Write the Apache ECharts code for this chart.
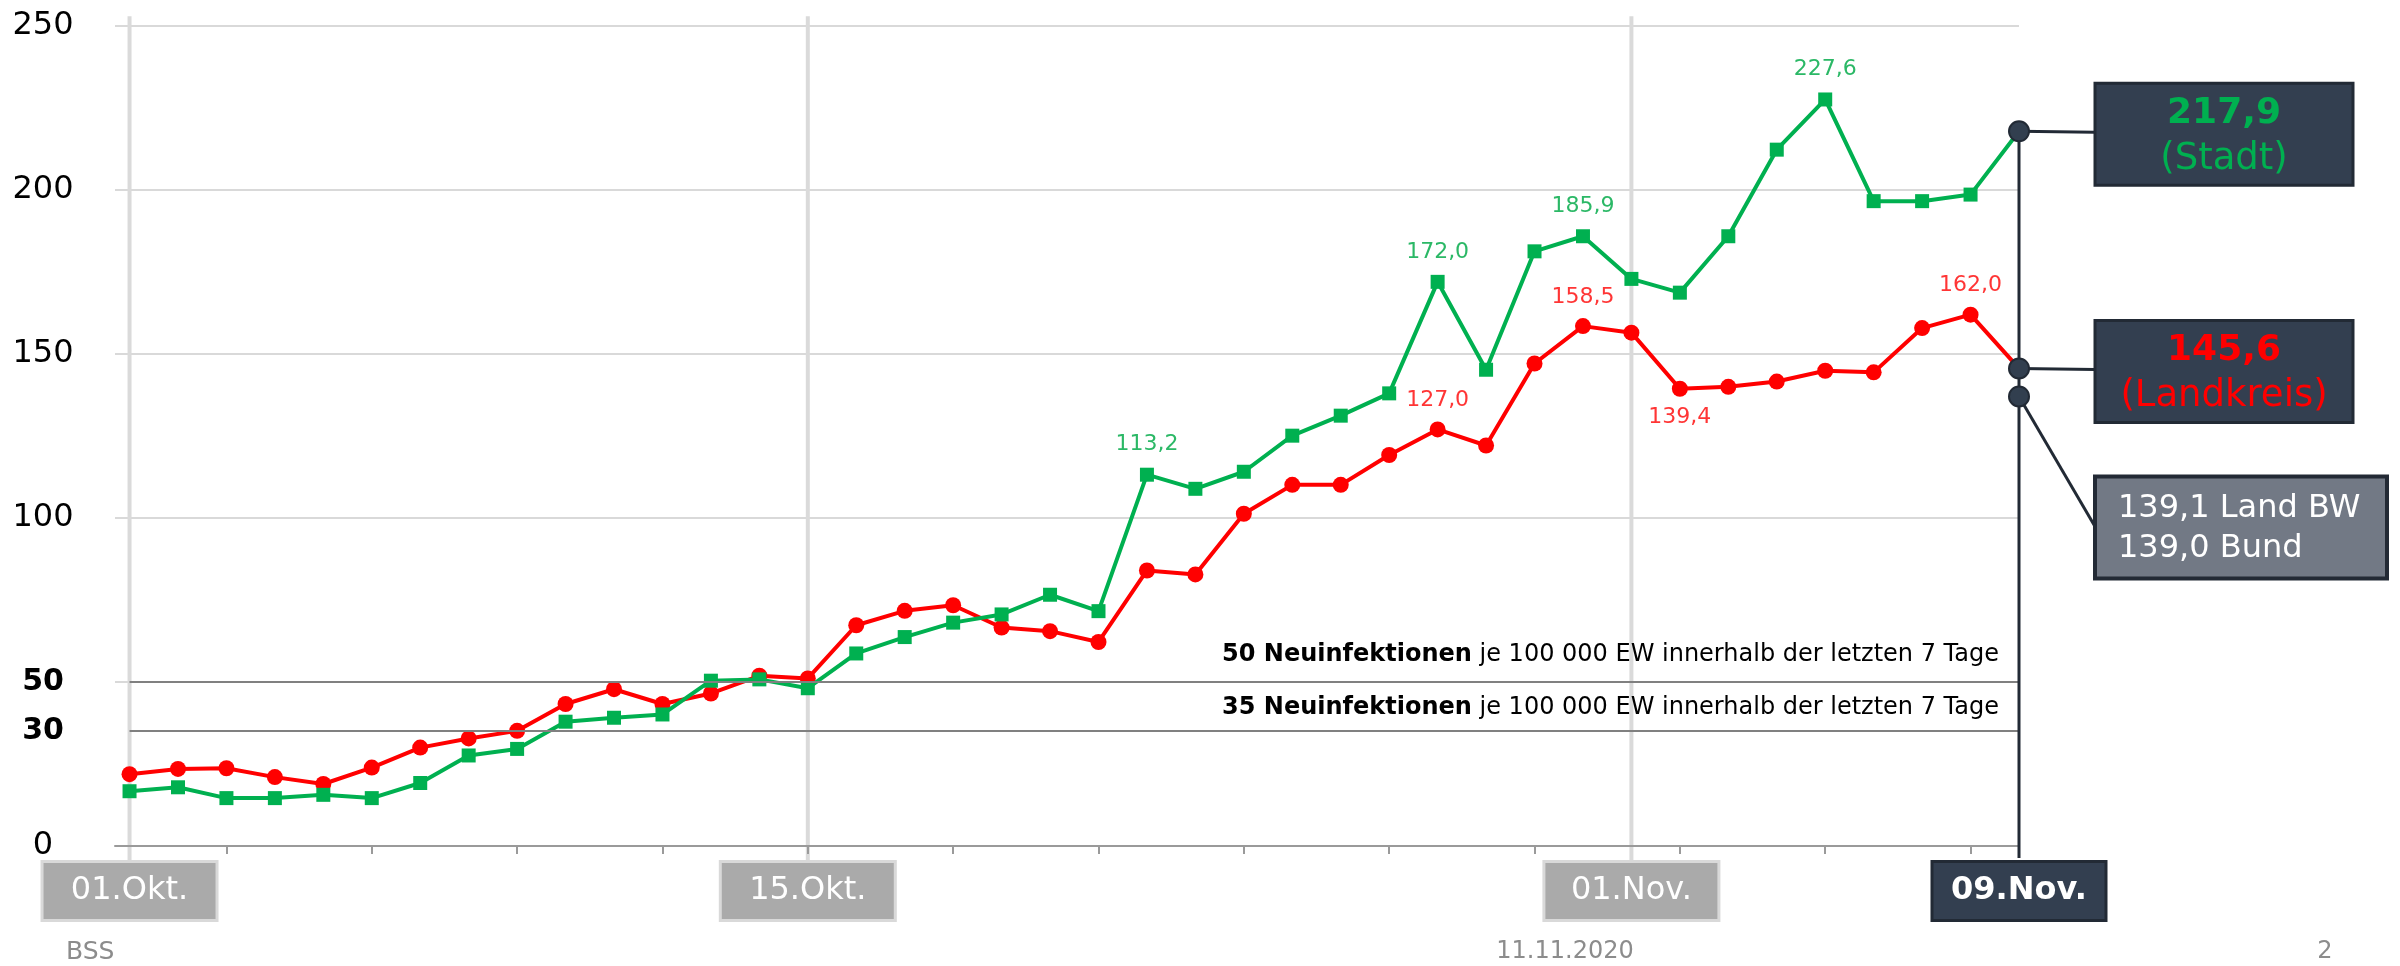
<!DOCTYPE html>
<html>
<head>
<meta charset="utf-8">
<script src="https://cdn.jsdelivr.net/npm/echarts@6/dist/echarts.min.js"></script>
<style>
  html, body { margin: 0; padding: 0; background: #fff; }
  #chart { width: 2400px; height: 966px; }
</style>
</head>
<body>
<div id="chart"></div>
<script>
// Tage 01.Okt. bis 09.Nov.
const dates = [
  '01.Okt.', '02.Okt.', '03.Okt.', '04.Okt.', '05.Okt.', '06.Okt.', '07.Okt.', '08.Okt.',
  '09.Okt.', '10.Okt.', '11.Okt.', '12.Okt.', '13.Okt.', '14.Okt.', '15.Okt.', '16.Okt.',
  '17.Okt.', '18.Okt.', '19.Okt.', '20.Okt.', '21.Okt.', '22.Okt.', '23.Okt.', '24.Okt.',
  '25.Okt.', '26.Okt.', '27.Okt.', '28.Okt.', '29.Okt.', '30.Okt.', '31.Okt.', '01.Nov.',
  '02.Nov.', '03.Nov.', '04.Nov.', '05.Nov.', '06.Nov.', '07.Nov.', '08.Nov.', '09.Nov.'
];

// 7-Tage-Inzidenz Stadt (gruen)
const stadt = [
  16.7, 17.9, 14.6, 14.6, 15.6, 14.6, 19.2, 27.6, 29.6, 37.9,
  39.1, 40.1, 50.4, 50.8, 48.1, 58.7, 63.7, 68.1, 70.6, 76.6,
  71.6, 113.2, 108.9, 114.1, 125.1, 131.2, 138.0, 172.0, 145.2, 181.3,
  185.9, 172.9, 168.7, 185.9, 212.3, 227.6, 196.6, 196.6, 198.6, 217.9
];

// 7-Tage-Inzidenz Landkreis (rot)
const landkreis = [
  21.9, 23.5, 23.7, 21.0, 18.9, 23.9, 30.0, 32.8, 35.1, 43.3,
  47.8, 43.3, 46.5, 51.9, 51.1, 67.3, 71.7, 73.4, 66.6, 65.5,
  62.2, 84.0, 82.8, 101.3, 110.1, 110.1, 119.2, 127.0, 122.1, 147.1,
  158.5, 156.5, 139.4, 140.0, 141.6, 144.9, 144.4, 157.9, 162.0, 145.6
];

const landBW = 139.1;
const bund = 139.0;

// beschriftete Punkte
const stadtLabelIdx = [21, 27, 30, 35];
const kreisLabelTop = [27, 30, 38];
const kreisLabelBottom = [32];

// Achsen
const yLabelValues = [0, 35, 50, 100, 150, 200, 250];
const yLabelTexts = ['0', '30', '50', '100', '150', '200', '250'];
const yBoldValues = [35, 50];
const xLabelIdx = [0, 14, 31, 39];
const xTickIdx = [2, 5, 8, 11, 14, 17, 20, 23, 26, 29, 32, 35, 38];
const vGridIdx = [0, 14, 31];

// Grenzwerte
const thresholds = [50, 35];
const thresholdBold = ['50 Neuinfektionen', '35 Neuinfektionen'];
const thresholdText = ' je 100 000 EW innerhalb der letzten 7 Tage';

const footer = ['BSS', '11.11.2020', '2'];

const FONT = 'DejaVu Sans';
const fmt = v => v.toFixed(1).replace('.', ',');

const chart = echarts.init(document.getElementById('chart'));

const stadtData = stadt.map((v, i) => {
  const item = { value: [i, v] };
  if (stadtLabelIdx.includes(i)) item.label = { show: true };
  return item;
});
const kreisData = landkreis.map((v, i) => {
  const item = { value: [i, v] };
  if (kreisLabelTop.includes(i)) item.label = { show: true, position: 'top' };
  if (kreisLabelBottom.includes(i)) item.label = { show: true, position: 'bottom' };
  return item;
});

const option = {
  animation: false,
  textStyle: { fontFamily: FONT },
  grid: { left: 115, right: 381, top: 26, bottom: 120 },
  xAxis: {
    type: 'value',
    min: -0.3,
    max: 39,
    splitLine: { show: false },
    axisLine: { lineStyle: { color: '#9a9a9a', width: 2 } },
    axisTick: { customValues: xTickIdx, length: 8, lineStyle: { color: '#9a9a9a', width: 2 } },
    axisLabel: {
      customValues: xLabelIdx,
      margin: 17,
      formatter: v => (v === 39 ? '{cur|' : '{d|') + dates[v] + '}',
      rich: {
        d: {
          backgroundColor: '#aaaaaa', borderColor: '#d9d9d9', borderWidth: 3,
          color: '#ffffff', fontSize: 32, fontFamily: FONT,
          width: 172, height: 56, lineHeight: 56, align: 'center'
        },
        cur: {
          backgroundColor: '#333f50', borderColor: '#222a35', borderWidth: 3,
          color: '#ffffff', fontSize: 32, fontWeight: 'bold', fontFamily: FONT,
          width: 171, height: 56, lineHeight: 56, align: 'center'
        }
      }
    }
  },
  yAxis: {
    type: 'value',
    min: 0,
    max: 250,
    interval: 50,
    axisLine: { show: false },
    axisTick: { show: false },
    splitLine: { lineStyle: { color: '#d9d9d9', width: 2 } },
    axisLabel: {
      customValues: yLabelValues,
      align: 'center',
      margin: 72,
      fontSize: 32,
      color: '#000',
      formatter: v => {
        const t = yLabelTexts[yLabelValues.indexOf(v)];
        return yBoldValues.includes(v) ? '{b|' + t + '}' : t;
      },
      rich: { b: { fontSize: 30, fontWeight: 'bold', color: '#000', fontFamily: FONT } }
    }
  },
  series: [
    {
      name: 'Landkreis',
      type: 'line',
      data: kreisData,
      symbol: 'circle',
      symbolSize: 16,
      lineStyle: { color: '#ff0000', width: 4 },
      itemStyle: { color: '#ff0000' },
      label: {
        show: false, position: 'top', distance: 10,
        fontSize: 22, color: '#ff3535',
        formatter: p => fmt(p.value[1])
      },
      markLine: {
        silent: true,
        symbol: ['none', 'none'],
        lineStyle: { color: '#808080', width: 2, type: 'solid' },
        data: thresholds.map((t, k) => [
          {
            coord: [0, t],
            label: {
              show: true,
              position: 'insideEndTop',
              distance: [20, k === 0 ? 15 : 11],
              fontSize: 24,
              color: '#000',
              formatter: '{b|' + thresholdBold[k] + '}' + thresholdText,
              rich: { b: { fontSize: 24, fontWeight: 'bold', color: '#000', fontFamily: FONT } }
            }
          },
          { coord: [39, t] }
        ])
      },
      z: 3
    },
    {
      name: 'Stadt',
      type: 'line',
      data: stadtData,
      symbol: 'rect',
      symbolSize: 14,
      lineStyle: { color: '#00b050', width: 4 },
      itemStyle: { color: '#00b050' },
      label: {
        show: false, position: 'top', distance: 12,
        fontSize: 22, color: '#2bb866',
        formatter: p => fmt(p.value[1])
      },
      z: 4
    }
  ]
};

chart.setOption(option);

// Anmerkungen rechts, an den Achsen ausgerichtet
const px = (x, y) => chart.convertToPixel({ xAxisIndex: 0, yAxisIndex: 0 }, [x, y]);
const last = dates.length - 1;
const p1 = px(last, stadt[last]);
const p2 = px(last, landkreis[last]);
const p3 = [p2[0], p2[1] + 28];
const axisY = px(0, 0)[1];
const boxX = p1[0] + 76;
const dark = '#222a35';

const graphic = [];

vGridIdx.forEach(i => {
  const x = px(i, 0)[0];
  graphic.push({
    type: 'line', z: 0, silent: true,
    shape: { x1: x, y1: px(i, 253)[1], x2: x, y2: axisY + 17 },
    style: { stroke: '#dadada', lineWidth: 4 }
  });
});

// Verbinder
graphic.push(
  { type: 'line', z: 20, shape: { x1: p1[0], y1: p1[1], x2: p1[0], y2: axisY + 12 }, style: { stroke: dark, lineWidth: 3 } },
  { type: 'line', z: 20, shape: { x1: p1[0], y1: p1[1], x2: boxX, y2: p1[1] + 1 }, style: { stroke: dark, lineWidth: 3 } },
  { type: 'line', z: 20, shape: { x1: p2[0], y1: p2[1], x2: boxX, y2: p2[1] + 1 }, style: { stroke: dark, lineWidth: 3 } },
  { type: 'line', z: 20, shape: { x1: p3[0], y1: p3[1], x2: boxX, y2: p3[1] + 130 }, style: { stroke: dark, lineWidth: 3 } }
);
[p1, p2, p3].forEach(p => {
  graphic.push({
    type: 'circle', z: 21,
    shape: { cx: p[0], cy: p[1], r: 10 },
    style: { fill: '#323f4f', stroke: dark, lineWidth: 2 }
  });
});

function valueBox(top, value, name, color) {
  return {
    type: 'group', z: 22, x: boxX, y: top,
    children: [
      { type: 'rect', shape: { x: 0, y: 0, width: 258, height: 102 }, style: { fill: '#333f50', stroke: dark, lineWidth: 3 } },
      { type: 'text', style: { text: fmt(value), x: 129, y: 30, align: 'center', verticalAlign: 'middle', fill: color, fontSize: 36, fontWeight: 'bold', fontFamily: FONT } },
      { type: 'text', style: { text: name, x: 129, y: 76, align: 'center', verticalAlign: 'middle', fill: color, fontSize: 37, fontFamily: FONT } }
    ]
  };
}
graphic.push(valueBox(p1[1] - 48, stadt[last], '(Stadt)', '#00b050'));
graphic.push(valueBox(p2[1] - 48, landkreis[last], '(Landkreis)', '#ff0000'));

graphic.push({
  type: 'group', z: 22, x: boxX, y: p3[1] + 80,
  children: [
    { type: 'rect', shape: { x: 0, y: 0, width: 292, height: 102 }, style: { fill: '#727985', stroke: '#232a35', lineWidth: 4 } },
    { type: 'text', style: { text: fmt(landBW) + ' Land BW', x: 23, y: 32, align: 'left', verticalAlign: 'middle', fill: '#ffffff', fontSize: 32, fontFamily: FONT } },
    { type: 'text', style: { text: fmt(bund) + ' Bund', x: 23, y: 72, align: 'left', verticalAlign: 'middle', fill: '#ffffff', fontSize: 32, fontFamily: FONT } }
  ]
});

// Fusszeile
graphic.push(
  { type: 'text', x: 66, y: 952, style: { text: footer[0], align: 'left', verticalAlign: 'middle', fill: '#8c8c8c', fontSize: 25, fontFamily: FONT } },
  { type: 'text', x: 1565, y: 952, style: { text: footer[1], align: 'center', verticalAlign: 'middle', fill: '#8c8c8c', fontSize: 24, fontFamily: FONT } },
  { type: 'text', x: 2325, y: 952, style: { text: footer[2], align: 'center', verticalAlign: 'middle', fill: '#8c8c8c', fontSize: 24, fontFamily: FONT } }
);

chart.setOption({ graphic: graphic });
</script>
</body>
</html>
